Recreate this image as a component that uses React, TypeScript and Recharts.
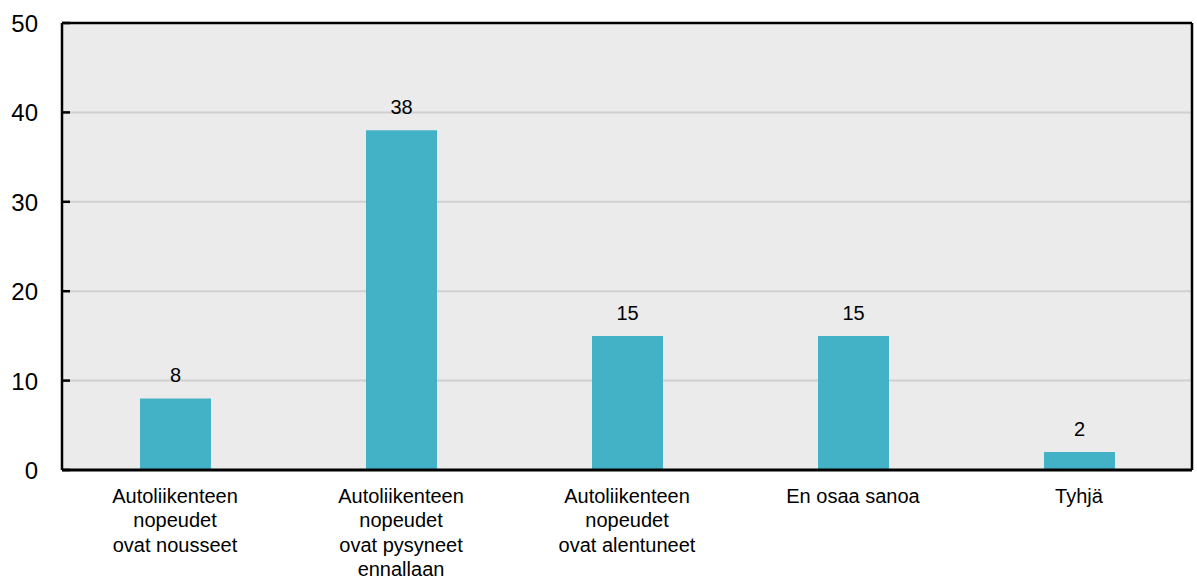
import { BarChart, Bar, XAxis, YAxis, CartesianGrid, LabelList } from 'recharts';

const categories = [
  'Autoliikenteen\nnopeudet\novat nousseet',
  'Autoliikenteen\nnopeudet\novat pysyneet\nennallaan',
  'Autoliikenteen\nnopeudet\novat alentuneet',
  'En osaa sanoa',
  'Tyhjä',
];
const answers = [8, 38, 15, 15, 2];
const yTicks = [0, 10, 20, 30, 40, 50];

const data = categories.map((name, i) => ({ name, value: answers[i] }));

const FONT = '"Liberation Sans", Arial, sans-serif';
const BAR_COLOR = '#44b2c6';

// y labels sit left of the frame, small tick marks point into the plot
const YTick = (props: any) => {
  const { x, y, payload } = props;
  return (
    <g>
      <line x1={x + 24} x2={x + 32} y1={y} y2={y} stroke="#000" strokeWidth={2.5} />
      <text x={x} y={y} dy={9} textAnchor="end" fontSize={24} fontFamily={FONT} fill="#000">
        {payload.value}
      </text>
    </g>
  );
};

// multi-line category labels under each bar
const XTick = (props: any) => {
  const { x, y, payload } = props;
  const lines = String(payload.value).split('\n');
  return (
    <text x={x} y={y} textAnchor="middle" fontSize={20} fontFamily={FONT} fill="#000">
      {lines.map((line, i) => (
        <tspan key={i} x={x} dy={i === 0 ? 33 : 24.3}>
          {line}
        </tspan>
      ))}
    </text>
  );
};

export default function App() {
  return (
    <div style={{ width: 1197, height: 577 }}>
      <style>{'body{margin:0}'}</style>
      <BarChart
        width={1197}
        height={577}
        data={data}
        margin={{ top: 22, right: 4, bottom: 0, left: 0 }}
      >
        <CartesianGrid
          vertical={false}
          fill="#ebebeb"
          stroke="#d0d0d0"
          strokeWidth={2}
        />
        <XAxis
          dataKey="name"
          height={107}
          interval={0}
          tickLine={false}
          tickSize={0}
          tickMargin={0}
          axisLine={{ stroke: '#000', strokeWidth: 3 }}
          tick={<XTick />}
        />
        {/* top and right axes only close the frame */}
        <XAxis
          xAxisId="top"
          dataKey="name"
          orientation="top"
          height={1}
          tick={false}
          tickLine={false}
          axisLine={{ stroke: '#000', strokeWidth: 2.5 }}
        />
        <YAxis
          width={62}
          domain={[0, 50]}
          ticks={yTicks}
          interval={0}
          tickLine={false}
          tickSize={0}
          tickMargin={24}
          axisLine={{ stroke: '#000', strokeWidth: 2.5 }}
          tick={<YTick />}
        />
        <YAxis
          yAxisId="right"
          orientation="right"
          width={1}
          domain={[0, 50]}
          ticks={yTicks}
          tick={false}
          tickLine={false}
          axisLine={{ stroke: '#000', strokeWidth: 2.5 }}
        />
        <Bar dataKey="value" fill={BAR_COLOR} barSize={71} isAnimationActive={false}>
          <LabelList
            dataKey="value"
            position="top"
            offset={16}
            fontSize={20}
            fontFamily={FONT}
            fill="#000"
          />
        </Bar>
      </BarChart>
    </div>
  );
}
